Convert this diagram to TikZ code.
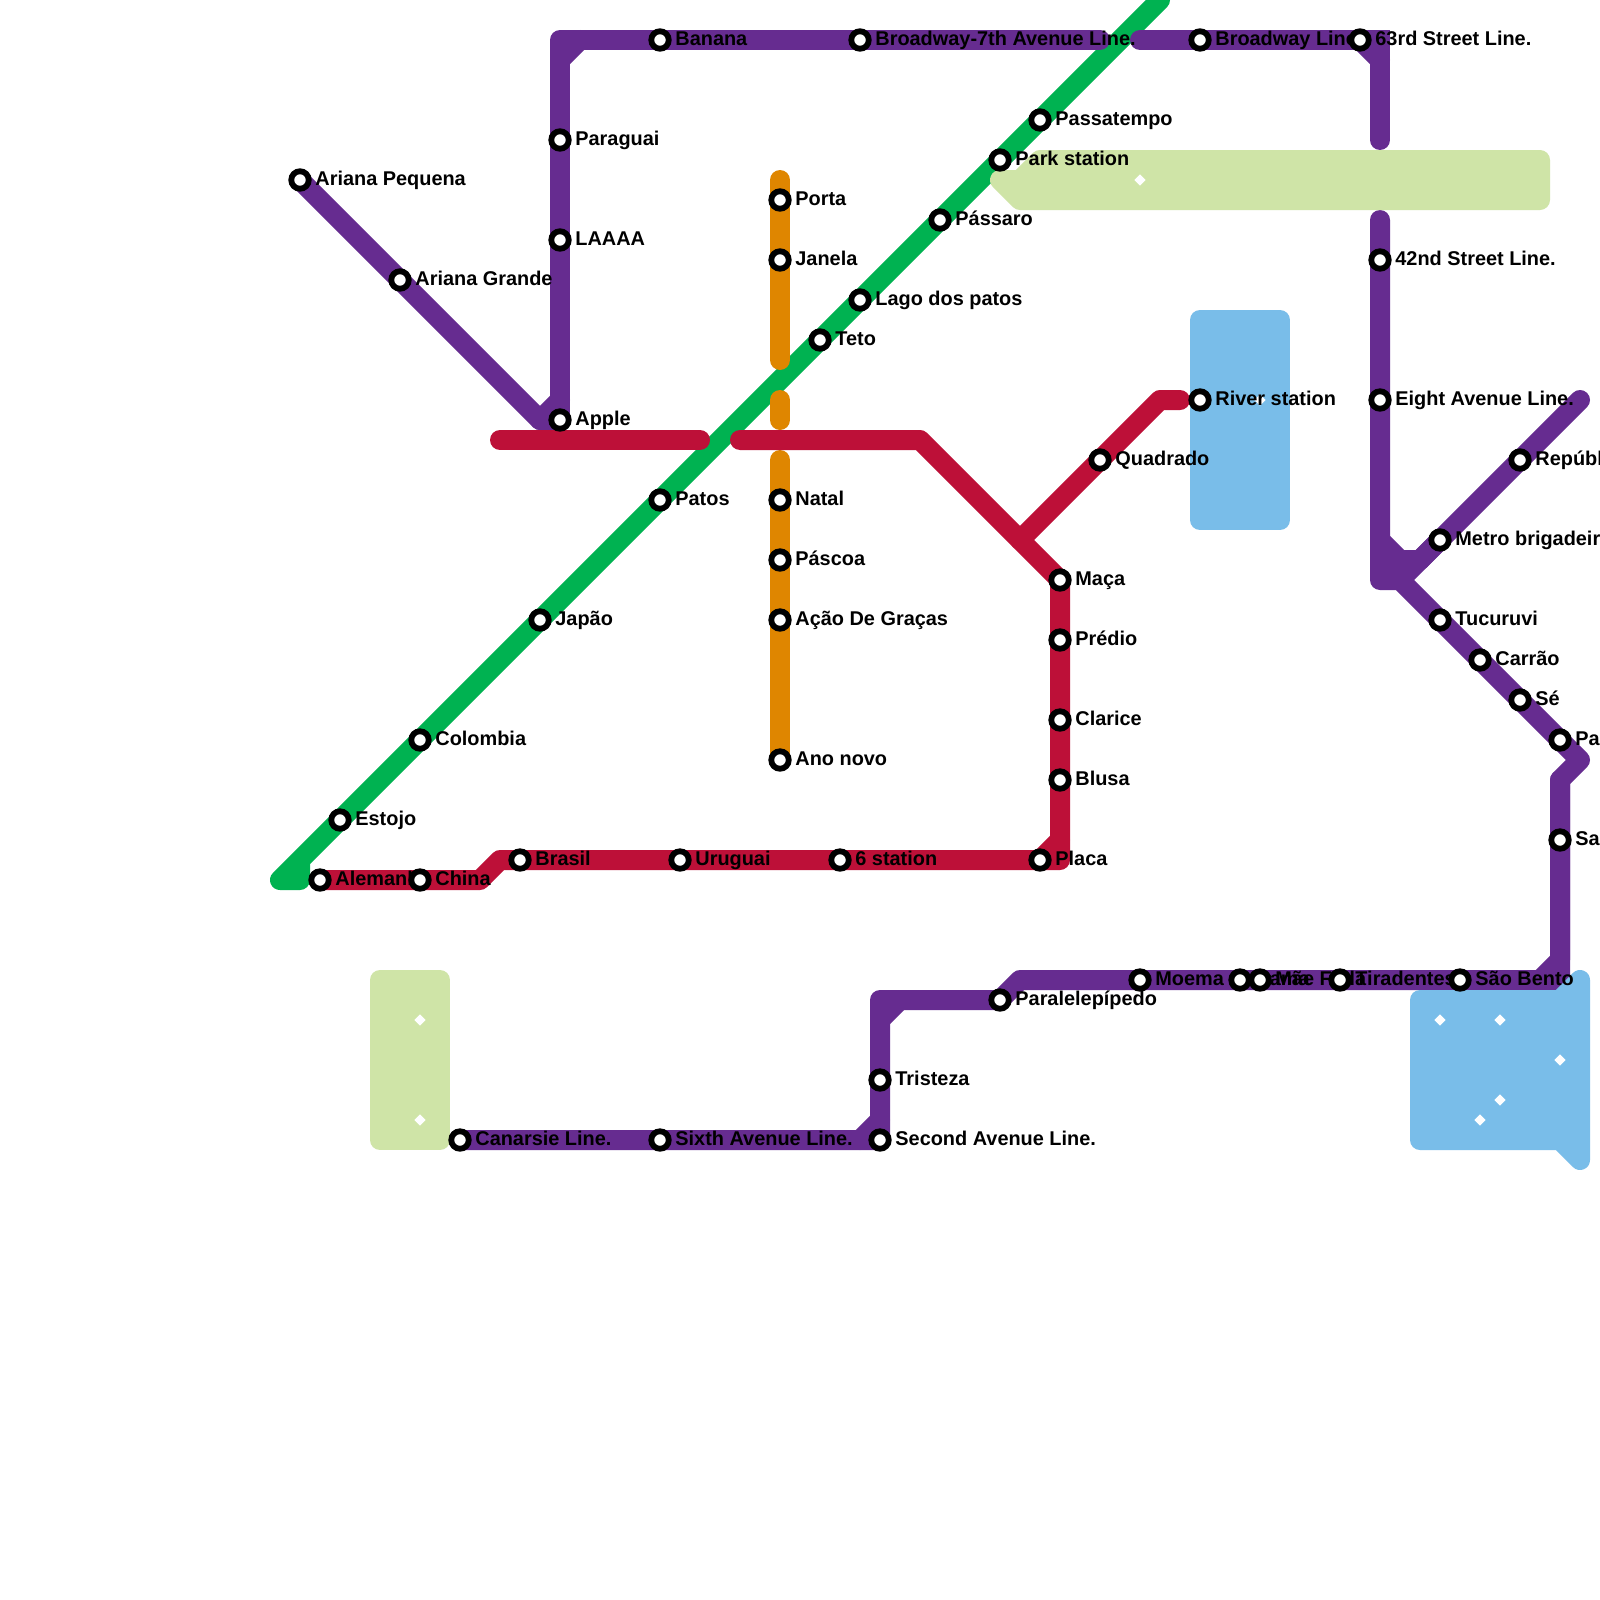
\documentclass[tikz,border=0pt]{standalone}
\usepackage{fontspec}
\setmainfont{Liberation Sans}
\usetikzlibrary{shapes.geometric}
\definecolor{mpurple}{HTML}{662C90}
\definecolor{mgreen}{HTML}{00B251}
\definecolor{morange}{HTML}{DF8600}
\definecolor{mred}{HTML}{BD1038}
\definecolor{lgreen}{HTML}{CFE4A7}
\definecolor{lblue}{HTML}{79BDE9}
\pgfdeclarelayer{bg}
\pgfdeclarelayer{txt}
\pgfsetlayers{bg,txt,main}
\tikzset{
  station/.style={circle,draw=black,fill=white,line width=2.9pt,minimum size=8.75pt,inner sep=0pt,outer sep=0pt},
  lbl/.style={anchor=base west,inner sep=0pt,outer sep=0pt,xshift=7.7pt,yshift=-2.8pt,font=\fontsize{9.95pt}{12pt}\selectfont\bfseries,text=black},
  mline/.style={line width=10pt,line cap=round,line join=round},
  area/.style={line width=10pt,line join=round},
  diam/.style={diamond,fill=white,minimum size=5.6pt,inner sep=0pt,outer sep=0pt}
}
\newcommand{\stn}[4]{%
  \node[station] (#1) at (#2,#3) {};
  \begin{pgfonlayer}{txt}\node[lbl] (#1-l) at (#2,#3) {#4};\end{pgfonlayer}%
}
\begin{document}
\begin{tikzpicture}[x=0.5pt,y=-0.5pt]
\path[use as bounding box] (0,0) rectangle (1600,1600);
\clip (0,0) rectangle (1600,1600);
% stations
\stn{ariP}{300}{180}{Ariana Pequena}
\stn{ariG}{400}{280}{Ariana Grande}
\stn{apple}{560}{420}{Apple}
\stn{laaaa}{560}{240}{LAAAA}
\stn{paraguai}{560}{140}{Paraguai}
\stn{banana}{660}{40}{Banana}
\stn{bwseven}{860}{40}{Broadway-7th Avenue Line.}
\stn{bway}{1200}{40}{Broadway Line}
\stn{sixtythree}{1360}{40}{63rd Street Line.}
\stn{fortytwo}{1380}{260}{42nd Street Line.}
\stn{eight}{1380}{400}{Eight Avenue Line.}
\stn{metro}{1440}{540}{Metro brigadeir}
\stn{repub}{1520}{460}{Repúbl}
\stn{tucuruvi}{1440}{620}{Tucuruvi}
\stn{carrao}{1480}{660}{Carrão}
\stn{se}{1520}{700}{Sé}
\stn{pa}{1560}{740}{Pa}
\stn{sa}{1560}{840}{Sa}
\stn{saobento}{1460}{980}{São Bento}
\stn{tiradentes}{1340}{980}{Tiradentes}
\stn{maefada}{1260}{980}{Mãe Fada}
\stn{cama}{1240}{980}{Cama}
\stn{moema}{1140}{980}{Moema}
\stn{paral}{1000}{1000}{Paralelepípedo}
\stn{tristeza}{880}{1080}{Tristeza}
\stn{second}{880}{1140}{Second Avenue Line.}
\stn{sixth}{660}{1140}{Sixth Avenue Line.}
\stn{canarsie}{460}{1140}{Canarsie Line.}
% green
\stn{estojo}{340}{820}{Estojo}
\stn{colombia}{420}{740}{Colombia}
\stn{japao}{540}{620}{Japão}
\stn{patos}{660}{500}{Patos}
\stn{teto}{820}{340}{Teto}
\stn{lago}{860}{300}{Lago dos patos}
\stn{passaro}{940}{220}{Pássaro}
\stn{park}{1000}{160}{Park station}
\stn{passatempo}{1040}{120}{Passatempo}
% orange
\stn{porta}{780}{200}{Porta}
\stn{janela}{780}{260}{Janela}
\stn{natal}{780}{500}{Natal}
\stn{pascoa}{780}{560}{Páscoa}
\stn{acao}{780}{620}{Ação De Graças}
\stn{anonovo}{780}{760}{Ano novo}
% red
\stn{alemanha}{320}{880}{Alemanha}
\stn{china}{420}{880}{China}
\stn{brasil}{520}{860}{Brasil}
\stn{uruguai}{680}{860}{Uruguai}
\stn{sixst}{840}{860}{6 station}
\stn{placa}{1040}{860}{Placa}
\stn{blusa}{1060}{780}{Blusa}
\stn{clarice}{1060}{720}{Clarice}
\stn{predio}{1060}{640}{Prédio}
\stn{maca}{1060}{580}{Maça}
\stn{quadrado}{1100}{460}{Quadrado}
\stn{river}{1200}{400}{River station}
% bends and free ends
\coordinate (gT) at (1160,0);
\coordinate (gA) at (300,860);
\coordinate (gB) at (300,880);
\coordinate (gC) at (280,880);
\coordinate (oA) at (780,180);
\coordinate (oB) at (780,360);
\coordinate (oC) at (780,400);
\coordinate (oD) at (780,420);
\coordinate (oE) at (780,460);
\coordinate (pA) at (540,420);
\coordinate (pB) at (560,400);
\coordinate (pC) at (560,40);
\coordinate (pD) at (560,60);
\coordinate (pE) at (580,40);
\coordinate (pF) at (1100,40);
\coordinate (pG) at (1140,40);
\coordinate (pH) at (1380,40);
\coordinate (pI) at (1380,140);
\coordinate (pJ) at (1380,60);
\coordinate (pK) at (1380,220);
\coordinate (pL) at (1380,580);
\coordinate (pM) at (1400,580);
\coordinate (pN) at (1380,540);
\coordinate (pO) at (1400,560);
\coordinate (pP) at (1420,560);
\coordinate (pQ) at (1580,400);
\coordinate (pR) at (1380,560);
\coordinate (pS) at (1580,760);
\coordinate (pT) at (1560,780);
\coordinate (pU) at (1560,960);
\coordinate (pV) at (1540,980);
\coordinate (pW) at (1560,980);
\coordinate (pX) at (1020,980);
\coordinate (pY) at (880,1000);
\coordinate (pZ) at (880,1020);
\coordinate (qA) at (900,1000);
\coordinate (qB) at (880,1120);
\coordinate (qC) at (860,1140);
\coordinate (rA) at (500,440);
\coordinate (rB) at (700,440);
\coordinate (rC) at (740,440);
\coordinate (rD) at (920,440);
\coordinate (rE) at (1060,860);
\coordinate (rF) at (1060,840);
\coordinate (rG) at (500,860);
\coordinate (rH) at (480,880);
\coordinate (rI) at (1020,540);
\coordinate (rJ) at (1160,400);
\coordinate (rK) at (1180,400);
% shapes of the parks and ponds
\coordinate (aA) at (380,980);
\coordinate (aB) at (440,980);
\coordinate (aC) at (440,1140);
\coordinate (aD) at (380,1140);
\coordinate (bA) at (1000,180);
\coordinate (bB) at (1020,180);
\coordinate (bC) at (1040,160);
\coordinate (bD) at (1540,160);
\coordinate (bE) at (1540,200);
\coordinate (bF) at (1020,200);
\coordinate (cA) at (1200,320);
\coordinate (cB) at (1280,320);
\coordinate (cC) at (1280,520);
\coordinate (cD) at (1200,520);
\coordinate (dA) at (1420,1000);
\coordinate (dB) at (1560,1000);
\coordinate (dC) at (1580,980);
\coordinate (dD) at (1580,1160);
\coordinate (dE) at (1560,1140);
\coordinate (dF) at (1420,1140);
\begin{pgfonlayer}{bg}
\fill[white] (0,0) rectangle (1600,1600);
% green line
\draw[mline,mgreen] (gT) -- (passatempo.center) -- (park.center) -- (passaro.center) -- (lago.center) -- (teto.center) -- (patos.center) -- (japao.center) -- (colombia.center) -- (estojo.center) -- (gC) -- (gB) -- (gA);
% orange line
\draw[mline,morange] (oA) -- (porta.center) -- (janela.center) -- (oB);
\draw[mline,morange] (oC) -- (oD);
\draw[mline,morange] (oE) -- (natal.center) -- (pascoa.center) -- (acao.center) -- (anonovo.center);
% purple line
\draw[mline,mpurple] (ariP.center) -- (ariG.center) -- (pA) -- (apple.center);
\draw[mline,mpurple] (pA) -- (pB);
\draw[mline,mpurple] (apple.center) -- (laaaa.center) -- (paraguai.center) -- (pC) -- (banana.center) -- (bwseven.center) -- (pF);
\draw[mline,mpurple] (pD) -- (pE);
\draw[mline,mpurple,line join=miter] (pG) -- (bway.center) -- (pH) -- (pI);
\draw[mline,mpurple] (sixtythree.center) -- (pJ);
\draw[mline,mpurple] (pK) -- (fortytwo.center) -- (eight.center) -- (pL) -- (pM) -- (tucuruvi.center) -- (carrao.center) -- (se.center) -- (pa.center) -- (pS) -- (pT) -- (sa.center) -- (pU) -- (pV);
\draw[mline,mpurple] (pN) -- (pO) -- (pP) -- (metro.center) -- (repub.center) -- (pQ);
\draw[mline,mpurple] (pR) -- (pP);
\draw[mline,mpurple] (pO) -- (pM);
\draw[mline,mpurple] (metro.center) -- (pM);
\draw[mline,mpurple] (pT) -- (pW) -- (saobento.center) -- (tiradentes.center) -- (maefada.center) -- (cama.center) -- (moema.center) -- (pX) -- (paral.center) -- (pY) -- (second.center) -- (sixth.center) -- (canarsie.center);
\draw[mline,mpurple] (pZ) -- (qA);
\draw[mline,mpurple] (qB) -- (qC);
% red line
\draw[mline,mred] (rA) -- (rB);
\draw[mline,mred] (rC) -- (rD) -- (maca.center) -- (predio.center) -- (clarice.center) -- (blusa.center) -- (rE) -- (placa.center) -- (sixst.center) -- (uruguai.center) -- (brasil.center) -- (rG) -- (rH) -- (china.center) -- (alemanha.center);
\draw[mline,mred] (rF) -- (placa.center);
\draw[mline,mred] (rI) -- (quadrado.center) -- (rJ) -- (rK);
% parks and ponds
\draw[area,draw=lgreen,fill=lgreen] (aA) -- (aB) -- (aC) -- (aD) -- cycle;
\draw[area,draw=lgreen,fill=lgreen] (bA) -- (bB) -- (bC) -- (bD) -- (bE) -- (bF) -- cycle;
\draw[area,draw=lblue,fill=lblue] (cA) -- (cB) -- (cC) -- (cD) -- cycle;
\draw[area,draw=lblue,fill=lblue] (dA) -- (dB) -- (dC) -- (dD) -- (dE) -- (dF) -- cycle;
% small white marks
\node[diam] (d1) at (420,1020) {};
\node[diam] (d2) at (420,1120) {};
\node[diam] (d3) at (1140,180) {};
\node[diam] (d4) at (1260,400) {};
\node[diam] (d5) at (1440,1020) {};
\node[diam] (d6) at (1500,1020) {};
\node[diam] (d7) at (1560,1060) {};
\node[diam] (d8) at (1500,1100) {};
\node[diam] (d9) at (1480,1120) {};
\end{pgfonlayer}
\end{tikzpicture}
\end{document}
